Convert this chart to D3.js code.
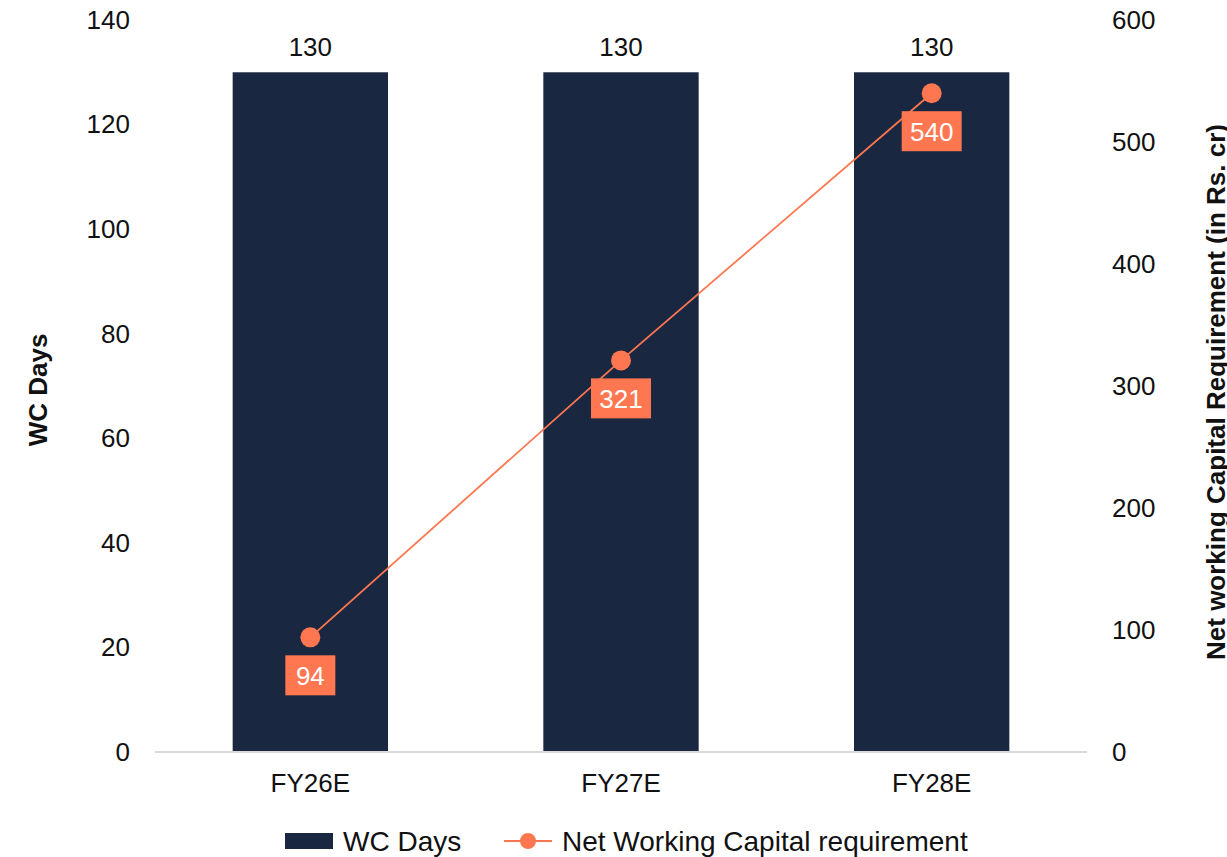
<!DOCTYPE html>
<html>
<head>
<meta charset="utf-8">
<script src="https://d3js.org/d3.v7.min.js"></script>
<style>
  body { margin: 0; background: #fff; }
  text { font-family: "Liberation Sans", Arial, sans-serif; }
</style>
</head>
<body>
<div id="chart"></div>
<script>
var years = ["FY26E", "FY27E", "FY28E"];
var wcDays = [130, 130, 130];
var nwc = [94, 321, 540];
var leftTicks = [0, 20, 40, 60, 80, 100, 120, 140];
var rightTicks = [0, 100, 200, 300, 400, 500, 600];

var W = 1227, H = 857;
var pLeft = 155, pRight = 1087, pTop = 20, pBottom = 752;
var navy = "#1a2740", orange = "#ff7750";
var fontSize = "26px";

var svg = d3.select("#chart").append("svg")
    .attr("width", W).attr("height", H);

var xs = d3.scaleBand().domain(years).range([pLeft, pRight]).paddingInner(0.5).paddingOuter(0.25);
var yl = d3.scaleLinear().domain([0, 140]).range([pBottom, pTop]);
var yr = d3.scaleLinear().domain([0, 600]).range([pBottom, pTop]);

// bars
svg.selectAll("rect.bar").data(wcDays).enter().append("rect")
    .attr("class", "bar")
    .attr("x", function(d, i) { return xs(years[i]); })
    .attr("y", function(d) { return yl(d); })
    .attr("width", xs.bandwidth())
    .attr("height", function(d) { return pBottom - yl(d); })
    .attr("fill", navy);

svg.selectAll("text.barlab").data(wcDays).enter().append("text")
    .attr("x", function(d, i) { return xs(years[i]) + xs.bandwidth() / 2; })
    .attr("y", function(d) { return yl(d) - 16; })
    .attr("text-anchor", "middle")
    .style("font-size", fontSize).attr("fill", "#111")
    .text(function(d) { return d; });

// baseline
svg.append("line")
    .attr("x1", pLeft).attr("x2", pRight)
    .attr("y1", pBottom).attr("y2", pBottom)
    .attr("stroke", "#d9d9d9").attr("stroke-width", 2);

// axes
var la = svg.append("g").attr("transform", "translate(" + pLeft + ",0)")
    .call(d3.axisLeft(yl).tickValues(leftTicks).tickSize(0).tickPadding(25));
la.select(".domain").remove();
la.selectAll("text").style("font-size", fontSize).attr("fill", "#111")
    .style("font-family", "'Liberation Sans', Arial, sans-serif").attr("dy", "0.32em");

var ra = svg.append("g").attr("transform", "translate(" + pRight + ",0)")
    .call(d3.axisRight(yr).tickValues(rightTicks).tickSize(0).tickPadding(25));
ra.select(".domain").remove();
ra.selectAll("text").style("font-size", fontSize).attr("fill", "#111")
    .style("font-family", "'Liberation Sans', Arial, sans-serif").attr("dy", "0.32em");

var xa = svg.append("g").attr("transform", "translate(0," + pBottom + ")")
    .call(d3.axisBottom(xs).tickSize(0).tickPadding(22));
xa.select(".domain").remove();
xa.selectAll("text").style("font-size", fontSize).attr("fill", "#111")
    .style("font-family", "'Liberation Sans', Arial, sans-serif").attr("dy", "0.71em");

// axis titles
svg.append("text")
    .attr("transform", "translate(47," + ((pTop + pBottom) / 2 + 4) + ") rotate(-90)")
    .attr("text-anchor", "middle")
    .style("font-size", fontSize).style("font-weight", "bold").attr("fill", "#111")
    .text("WC Days");

svg.append("text")
    .attr("transform", "translate(1225," + ((pTop + pBottom) / 2 + 6) + ") rotate(-90)")
    .attr("text-anchor", "middle")
    .style("font-size", fontSize).style("font-weight", "bold").attr("fill", "#111")
    .text("Net working Capital Requirement (in Rs. cr)");

// line
var cx = function(i) { return xs(years[i]) + xs.bandwidth() / 2; };
var line = d3.line()
    .x(function(d, i) { return cx(i); })
    .y(function(d) { return yr(d); });

svg.append("path").datum(nwc)
    .attr("d", line)
    .attr("fill", "none").attr("stroke", orange).attr("stroke-width", 1.8);

svg.selectAll("circle.pt").data(nwc).enter().append("circle")
    .attr("cx", function(d, i) { return cx(i); })
    .attr("cy", function(d) { return yr(d); })
    .attr("r", 10).attr("fill", orange);

var labs = svg.selectAll("g.lab").data(nwc).enter().append("g")
    .attr("transform", function(d, i) { return "translate(" + cx(i) + "," + (yr(d) + 38) + ")"; });
labs.append("rect")
    .attr("x", function(d) { return String(d).length > 2 ? -30 : -25; })
    .attr("y", -20)
    .attr("width", function(d) { return String(d).length > 2 ? 60 : 50; })
    .attr("height", 40)
    .attr("fill", orange);
labs.append("text")
    .attr("text-anchor", "middle").attr("dy", "0.36em")
    .style("font-size", fontSize).attr("fill", "#fff")
    .text(function(d) { return d; });

// legend
var lg = svg.append("g");
lg.append("rect").attr("x", 285).attr("y", 833).attr("width", 48).attr("height", 16).attr("fill", navy);
lg.append("text").attr("x", 343).attr("y", 851)
    .style("font-size", "28px").attr("fill", "#111").text("WC Days");
lg.append("line").attr("x1", 504).attr("x2", 552).attr("y1", 841).attr("y2", 841)
    .attr("stroke", orange).attr("stroke-width", 2);
lg.append("circle").attr("cx", 528).attr("cy", 841).attr("r", 8).attr("fill", orange);
lg.append("text").attr("x", 562).attr("y", 851)
    .style("font-size", "28px").attr("fill", "#111").text("Net Working Capital requirement");
</script>
</body>
</html>
